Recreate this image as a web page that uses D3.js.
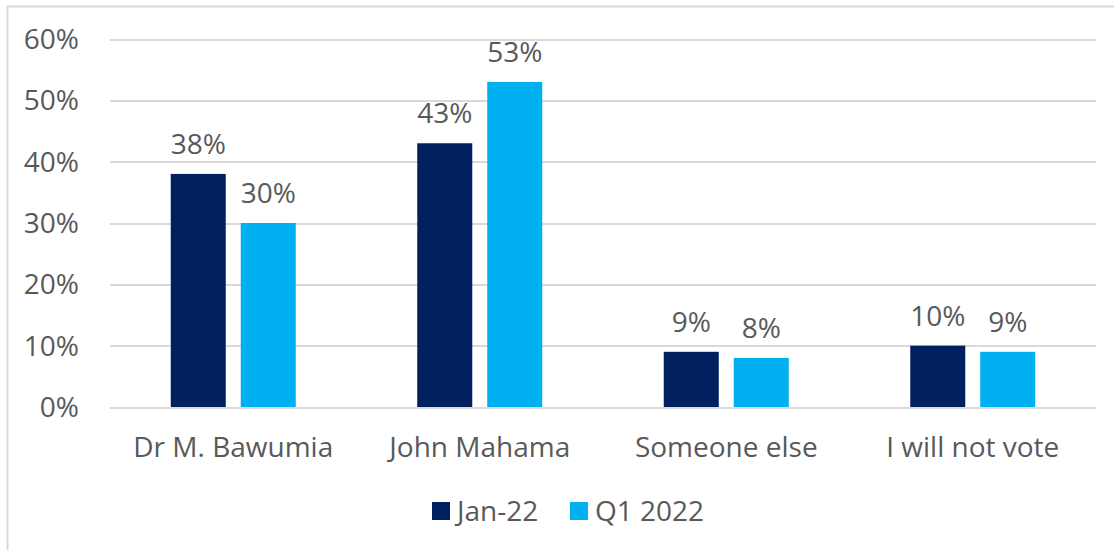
<!DOCTYPE html>
<html>
<head>
<meta charset="utf-8">
<script src="https://cdn.jsdelivr.net/npm/d3@7"></script>
<style>
  body { margin: 0; background: #fff; }
  svg { display: block; }
  text { font-family: 'Open Sans', 'Liberation Sans', sans-serif; fill: #595959; }
  .grid line { stroke: #d9d9d9; stroke-width: 2px; shape-rendering: crispEdges; }
  .grid path { stroke: none; }
</style>
</head>
<body>
<svg id="chart" width="1114" height="550"></svg>
<script>
const categories = ['Dr M. Bawumia', 'John Mahama', 'Someone else', 'I will not vote'];
const seriesNames = ['Jan-22', 'Q1 2022'];
const jan22 = [38, 43, 9, 10];
const q12022 = [30, 53, 8, 9];
const yTicks = [0, 10, 20, 30, 40, 50, 60];
const colors = ['#002060', '#00b0f0'];

const svg = d3.select('#chart');
const margin = { top: 39, left: 110, right: 18, bottom: 143 };
const width = +svg.attr('width') - margin.left - margin.right;
const height = +svg.attr('height') - margin.top - margin.bottom;
const fontSize = '28px';

// outer frame
svg.append('rect')
  .attr('x', 7.5).attr('y', 6.5)
  .attr('width', 1120).attr('height', 560)
  .attr('fill', 'none').attr('stroke', '#d9d9d9').attr('stroke-width', 2);

const g = svg.append('g').attr('transform', 'translate(' + margin.left + ',' + margin.top + ')');

const x0 = d3.scaleBand().domain(categories).range([0, width]).padding(0);
const x1 = d3.scaleBand().domain(seriesNames).range([0, x0.bandwidth()])
  .paddingInner(0.214).paddingOuter(0.868);
const y = d3.scaleLinear().domain([0, 60]).range([height, 0]);
const z = d3.scaleOrdinal().domain(seriesNames).range(colors);

g.append('g')
  .attr('class', 'grid')
  .call(d3.axisLeft(y).tickValues(yTicks).tickSize(-width).tickFormat(''));

// y tick labels
g.append('g').selectAll('text')
  .data(yTicks)
  .enter()
  .append('text')
  .attr('x', -31)
  .attr('y', (d) => y(d))
  .attr('dy', '0.36em')
  .attr('text-anchor', 'end')
  .style('font-size', fontSize)
  .text((d) => d + '%');

const data = categories.map((c, i) => ({
  cat: c,
  values: [
    { type: seriesNames[0], value: jan22[i] },
    { type: seriesNames[1], value: q12022[i] },
  ],
}));

const barG = g.append('g').selectAll('g')
  .data(data)
  .enter()
  .append('g')
  .attr('transform', (d) => 'translate(' + x0(d.cat) + ',0)');

barG.selectAll('rect')
  .data((d) => d.values)
  .enter()
  .append('rect')
  .attr('x', (d) => x1(d.type))
  .attr('width', x1.bandwidth())
  .attr('y', (d) => y(d.value))
  .attr('height', (d) => height - y(d.value))
  .attr('fill', (d) => z(d.type));

barG.selectAll('.lbl')
  .data((d) => d.values)
  .enter()
  .append('text')
  .attr('class', 'lbl')
  .attr('x', (d) => x1(d.type) + x1.bandwidth() / 2)
  .attr('y', (d) => y(d.value) - 20)
  .attr('text-anchor', 'middle')
  .style('font-size', fontSize)
  .text((d) => d.value + '%');

// category labels
g.append('g').selectAll('text')
  .data(categories)
  .enter()
  .append('text')
  .attr('x', (d) => x0(d) + x0.bandwidth() / 2)
  .attr('y', height + 50)
  .attr('text-anchor', 'middle')
  .style('font-size', fontSize)
  .text((d) => d);

// legend
const legend = svg.append('g').attr('transform', 'translate(432,0)');
const legendX = [0, 138];
const lg = legend.selectAll('g')
  .data(seriesNames)
  .enter()
  .append('g')
  .attr('transform', (d, i) => 'translate(' + legendX[i] + ',502)');
lg.append('rect').attr('width', 18).attr('height', 18).attr('fill', (d) => z(d));
lg.append('text')
  .attr('x', 25)
  .attr('y', 19)
  .style('font-size', fontSize)
  .text((d) => d);
</script>
</body>
</html>
